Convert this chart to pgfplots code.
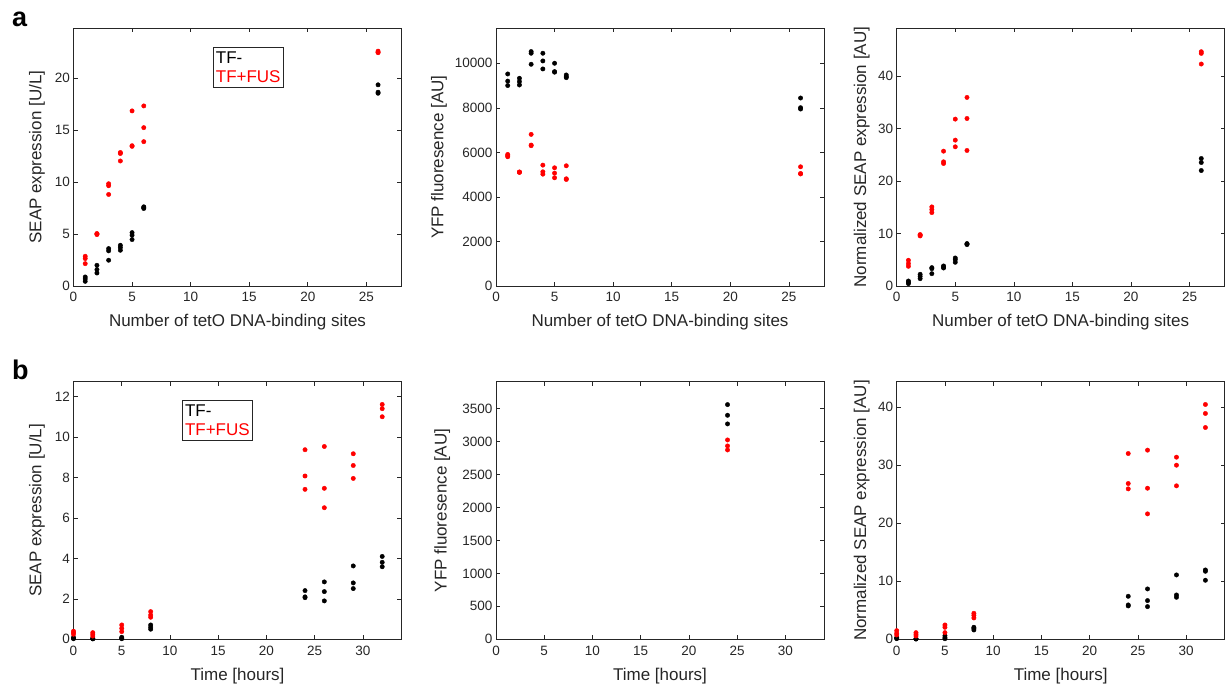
\documentclass[border=0pt]{standalone}
\usepackage{pgfplots}
\pgfplotsset{compat=1.18}
\usepackage{fontspec}
\setmainfont{Liberation Sans}
\definecolor{axgray}{HTML}{262626}
\definecolor{mred}{HTML}{FF0000}
\pgfplotsset{
 myax/.style={
  scale only axis, width=328pt, height=257.7pt,
  axis line style={axgray, line width=0.6pt},
  tick style={axgray, line width=0.6pt},
  major tick length=4pt, tick align=inside,
  xtick pos=both, ytick pos=both,
  ticklabel style={font=\fontsize{13.5}{15}\selectfont, text=axgray},
  xticklabel style={yshift=-3pt},
  label style={font=\fontsize{17}{20}\selectfont, text=axgray},
  /pgf/number format/assume math mode=true,
  /pgf/number format/set thousands separator={},
  scaled y ticks=false,
  clip=false,
  xlabel style={at={(axis description cs:0.5,-0.142)},anchor=center},
 },
 blk/.style={only marks, color=black, mark=*, mark size=2.2pt, mark options={fill=black, draw=black, line width=0.4pt}},
 rd/.style={only marks, color=mred, mark=*, mark size=2.2pt, mark options={fill=mred, draw=mred, line width=0.4pt}},
}
\tikzset{legnode/.style={draw=axgray, line width=0.6pt, anchor=north west, align=left, inner xsep=3pt, inner ysep=4.5pt, font=\fontsize{17}{19.5}\selectfont, fill=white}}
\begin{document}
\begin{tikzpicture}
\path[use as bounding box] (0pt,0pt) rectangle (1227pt,689pt);
\node[anchor=base west, inner sep=0, font=\fontsize{27}{30}\selectfont\bfseries] at (12pt,662.3pt) {a};
\node[anchor=base west, inner sep=0, font=\fontsize{27}{30}\selectfont\bfseries] at (12pt,309pt) {b};

% a1
\begin{axis}[myax, at={(73.5pt,403pt)}, anchor=south west, xmin=0, xmax=28, ymin=0, ymax=24.8,
  xtick={0,5,10,15,20,25}, ytick={0,5,10,15,20},
  xlabel={Number of tetO DNA-binding sites}, ylabel={SEAP expression [U/L]},
  ylabel style={at={(axis description cs:-0.111,0.5)},anchor=center}]
\addplot[blk] coordinates {(1,0.87)(1,0.68)(1,0.45)(2,1.99)(2,1.58)(2,1.25)(3,3.6)(3,3.38)(3,2.48)(4,3.92)(4,3.7)(4,3.44)(5,5.14)(5,4.89)(5,4.47)(6,7.62)(6,7.46)(6,7.55)(26,19.36)(26,18.65)(26,18.55)};
\addplot[rd] coordinates {(1,2.86)(1,2.64)(1,2.15)(2,4.95)(2,5.0)(2,5.05)(3,9.84)(3,9.65)(3,8.81)(4,12.85)(4,12.75)(4,12.03)(5,16.85)(5,13.44)(5,13.5)(6,17.33)(6,15.24)(6,13.89)(26,22.6)(26,22.5)(26,22.45)};
\node[legnode] at (axis description cs:0.424,0.929) {TF-\\\textcolor{mred}{TF+FUS}};
\end{axis}

% a2
\begin{axis}[myax, at={(496pt,403pt)}, anchor=south west, xmin=0, xmax=28, ymin=0, ymax=11570,
  xtick={0,5,10,15,20,25}, ytick={0,2000,4000,6000,8000,10000},
  xlabel={Number of tetO DNA-binding sites}, ylabel={YFP fluoresence [AU]},
  ylabel style={at={(axis description cs:-0.174,0.5)},anchor=center}]
\addplot[blk] coordinates {(1,9520)(1,9200)(1,9000)(2,9325)(2,9175)(2,9025)(3,10525)(3,10450)(3,9955)(4,10450)(4,10105)(4,9745)(5,10000)(5,9625)(5,9600)(6,9475)(6,9355)(6,9400)(26,8440)(26,8005)(26,7945)};
\addplot[rd] coordinates {(1,5907)(1,5802)(1,5850)(2,5112)(2,5100)(2,5120)(3,6807)(3,6327)(3,6300)(4,5427)(4,5127)(4,5022)(5,5307)(5,5067)(5,4858)(6,5397)(6,4813)(6,4783)(26,5352)(26,5052)(26,5030)};
\end{axis}

% a3
\begin{axis}[myax, at={(896.7pt,403pt)}, anchor=south west, xmin=0, xmax=28, ymin=0, ymax=49.1,
  xtick={0,5,10,15,20,25}, ytick={0,10,20,30,40},
  xlabel={Number of tetO DNA-binding sites}, ylabel={Normalized SEAP expression [AU]},
  ylabel style={at={(axis description cs:-0.107,0.5)},anchor=center}]
\addplot[blk] coordinates {(1,0.95)(1,0.7)(1,0.45)(2,2.23)(2,1.84)(2,1.4)(3,3.5)(3,3.3)(3,2.35)(4,3.82)(4,3.6)(4,3.43)(5,5.34)(5,5.02)(5,4.52)(6,8.08)(6,7.89)(6,8.0)(26,24.29)(26,23.53)(26,22.0)};
\addplot[rd] coordinates {(1,4.9)(1,4.26)(1,3.75)(2,9.8)(2,9.54)(2,9.7)(3,15.07)(3,14.56)(3,13.99)(4,25.69)(4,23.66)(4,23.34)(5,31.8)(5,27.79)(5,26.52)(6,35.93)(6,31.92)(6,25.82)(26,44.64)(26,44.32)(26,42.29)};
\end{axis}

% b1
\begin{axis}[myax, at={(73.5pt,49.7pt)}, anchor=south west, xmin=0, xmax=34, ymin=0, ymax=12.75,
  xtick={0,5,10,15,20,25,30}, ytick={0,2,4,6,8,10,12},
  xlabel={Time [hours]}, ylabel={SEAP expression [U/L]},
  ylabel style={at={(axis description cs:-0.111,0.5)},anchor=center}]
\addplot[blk] coordinates {(0,0.08)(0,0.03)(0,0.05)(2,0.05)(2,0.02)(2,0.03)(5,0.1)(5,0.05)(5,0.03)(8,0.71)(8,0.6)(8,0.5)(24,2.41)(24,2.06)(24,2.1)(26,2.84)(26,2.36)(26,1.9)(29,3.63)(29,2.79)(29,2.51)(32,4.1)(32,3.81)(32,3.59)};
\addplot[rd] coordinates {(0,0.4)(0,0.33)(0,0.25)(2,0.33)(2,0.25)(2,0.16)(5,0.71)(5,0.54)(5,0.38)(8,1.37)(8,1.2)(8,1.09)(24,9.38)(24,8.08)(24,7.42)(26,9.54)(26,7.47)(26,6.51)(29,9.18)(29,8.6)(29,7.96)(32,11.62)(32,11.41)(32,11.01)};
\node[legnode] at (axis description cs:0.33,0.929) {TF-\\\textcolor{mred}{TF+FUS}};
\end{axis}

% b2
\begin{axis}[myax, at={(496pt,49.7pt)}, anchor=south west, xmin=0, xmax=34, ymin=0, ymax=3910,
  xtick={0,5,10,15,20,25,30}, ytick={0,500,1000,1500,2000,2500,3000,3500},
  xlabel={Time [hours]}, ylabel={YFP fluoresence [AU]},
  ylabel style={at={(axis description cs:-0.164,0.5)},anchor=center}]
\addplot[blk] coordinates {(24,3561)(24,3399)(24,3268)};
\addplot[rd] coordinates {(24,3025)(24,2934)(24,2873)};
\end{axis}

% b3
\begin{axis}[myax, at={(896.7pt,49.7pt)}, anchor=south west, xmin=0, xmax=34, ymin=0, ymax=44.4,
  xtick={0,5,10,15,20,25,30}, ytick={0,10,20,30,40},
  xlabel={Time [hours]}, ylabel={Normalized SEAP expression [AU]},
  ylabel style={at={(axis description cs:-0.107,0.5)},anchor=center}]
\addplot[blk] coordinates {(0,0.29)(0,0.11)(0,0.2)(2,0.1)(2,0.05)(2,0.08)(5,0.63)(5,0.29)(5,0.1)(8,2.07)(8,1.61)(8,1.9)(24,7.41)(24,5.92)(24,5.75)(26,8.68)(26,6.67)(26,5.63)(29,11.09)(29,7.64)(29,7.24)(32,11.95)(32,11.72)(32,10.17)};
\addplot[rd] coordinates {(0,1.49)(0,1.03)(0,0.75)(2,1.15)(2,0.86)(2,0.57)(5,2.47)(5,2.07)(5,1.15)(8,4.48)(8,4.14)(8,3.68)(24,32.01)(24,26.84)(24,25.92)(26,32.59)(26,26.03)(26,21.61)(29,31.38)(29,30.0)(29,26.44)(32,40.46)(32,38.91)(32,36.49)};
\end{axis}
\end{tikzpicture}
\end{document}
